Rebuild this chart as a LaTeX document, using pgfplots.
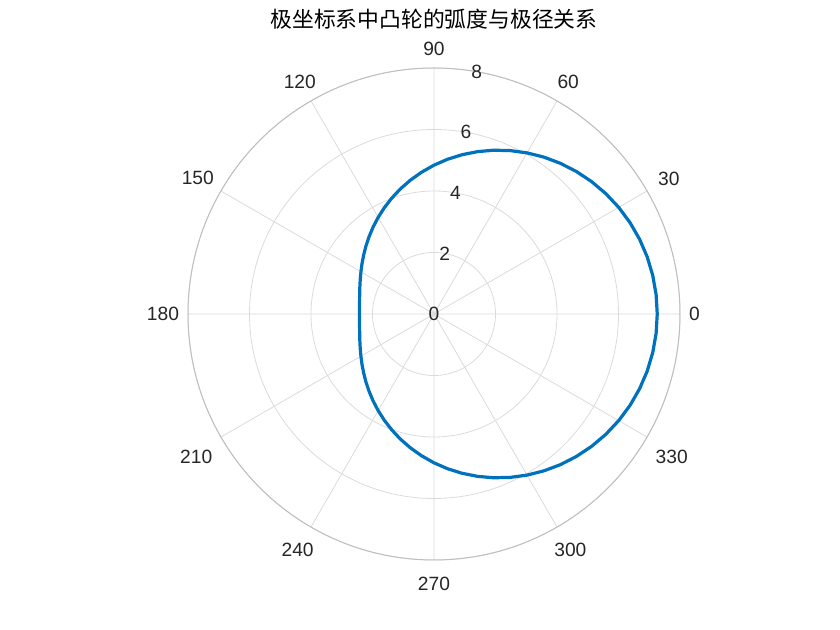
\documentclass[border=0pt]{standalone}
\usepackage{fontspec}
\setmainfont{Liberation Sans}
\newfontfamily\cjk{Noto Sans CJK SC}
\usepackage{pgfplots}
\pgfplotsset{compat=1.18}
\usepgfplotslibrary{polar}
\definecolor{mblue}{HTML}{0072BD}
\definecolor{tickc}{HTML}{262626}
\begin{document}
\begin{tikzpicture}
\begin{polaraxis}[
  scale only axis, width=246pt, height=246pt,
  xmin=0, xmax=360, ymin=0, ymax=8,
  xtick={0,30,...,330}, ytick={0,2,4,6,8},
  xticklabels={}, yticklabels={},
  major tick length=0pt,
  grid=major,
  major grid style={black!14, line width=0.4pt},
  x axis line style={black!25, line width=0.5pt},
  y axis line style={draw=none},
  clip=false,
]
\addplot[mblue, line width=1.6pt] coordinates {
(0,7.260) (5,7.251) (10,7.223) (15,7.178) (20,7.114) (25,7.033) (30,6.936) (35,6.822)
(40,6.694) (45,6.551) (50,6.396) (55,6.228) (60,6.050) (65,5.863) (70,5.668) (75,5.466)
(80,5.260) (85,5.051) (90,4.840) (95,4.629) (100,4.420) (105,4.214) (110,4.012) (115,3.817)
(120,3.630) (125,3.452) (130,3.284) (135,3.129) (140,2.986) (145,2.858) (150,2.744) (155,2.647)
(160,2.566) (165,2.502) (170,2.457) (175,2.429) (180,2.420)
(185,2.429) (190,2.457) (195,2.502) (200,2.566) (205,2.647) (210,2.744) (215,2.858) (220,2.986)
(225,3.129) (230,3.284) (235,3.452) (240,3.630) (245,3.817) (250,4.012) (255,4.214) (260,4.420)
(265,4.629) (270,4.840) (275,5.051) (280,5.260) (285,5.466) (290,5.668) (295,5.863) (300,6.050)
(305,6.228) (310,6.396) (315,6.551) (320,6.694) (325,6.822) (330,6.936) (335,7.033) (340,7.114)
(345,7.178) (350,7.223) (355,7.251) (360,7.260)
};
\coordinate (O) at (axis cs:0,0);
\tikzset{lab/.style={font=\fontsize{9.6}{11}\selectfont, text=tickc, inner sep=0pt}}
\node[lab, anchor=180] at (axis cs:0,8.28) {0};
\node[lab, anchor=210] at (axis cs:30,8.4) {30};
\node[lab, anchor=240] at (axis cs:60,8.46) {60};
\node[lab, anchor=270] at (axis cs:90,8.4) {90};
\node[lab, anchor=300] at (axis cs:120,8.46) {120};
\node[lab, anchor=330] at (axis cs:150,8.4) {150};
\node[lab, anchor=0] at (axis cs:180,8.28) {180};
\node[lab, anchor=30, yshift=-3pt] at (axis cs:210,8.46) {210};
\node[lab, anchor=60] at (axis cs:240,8.6) {240};
\node[lab, anchor=90] at (axis cs:270,8.55) {270};
\node[lab, anchor=120] at (axis cs:300,8.6) {300};
\node[lab, anchor=150, yshift=-3pt] at (axis cs:330,8.46) {330};
\node[lab] at (axis cs:0,0) {0};
\node[lab] at (axis cs:80,2) {2};
\node[lab] at (axis cs:80,4) {4};
\node[lab] at (axis cs:80,6) {6};
\node[lab] at (axis cs:80,8) {8};
\end{polaraxis}
\node[font=\cjk\fontsize{10.9}{12}\selectfont, text=black, inner sep=0pt] at ([yshift=147.5pt]O) {极坐标系中凸轮的弧度与极径关系};
\path[use as bounding box] ([xshift=-217pt,yshift=157pt]O) rectangle ([xshift=203pt,yshift=-158pt]O);
\end{tikzpicture}
\end{document}
